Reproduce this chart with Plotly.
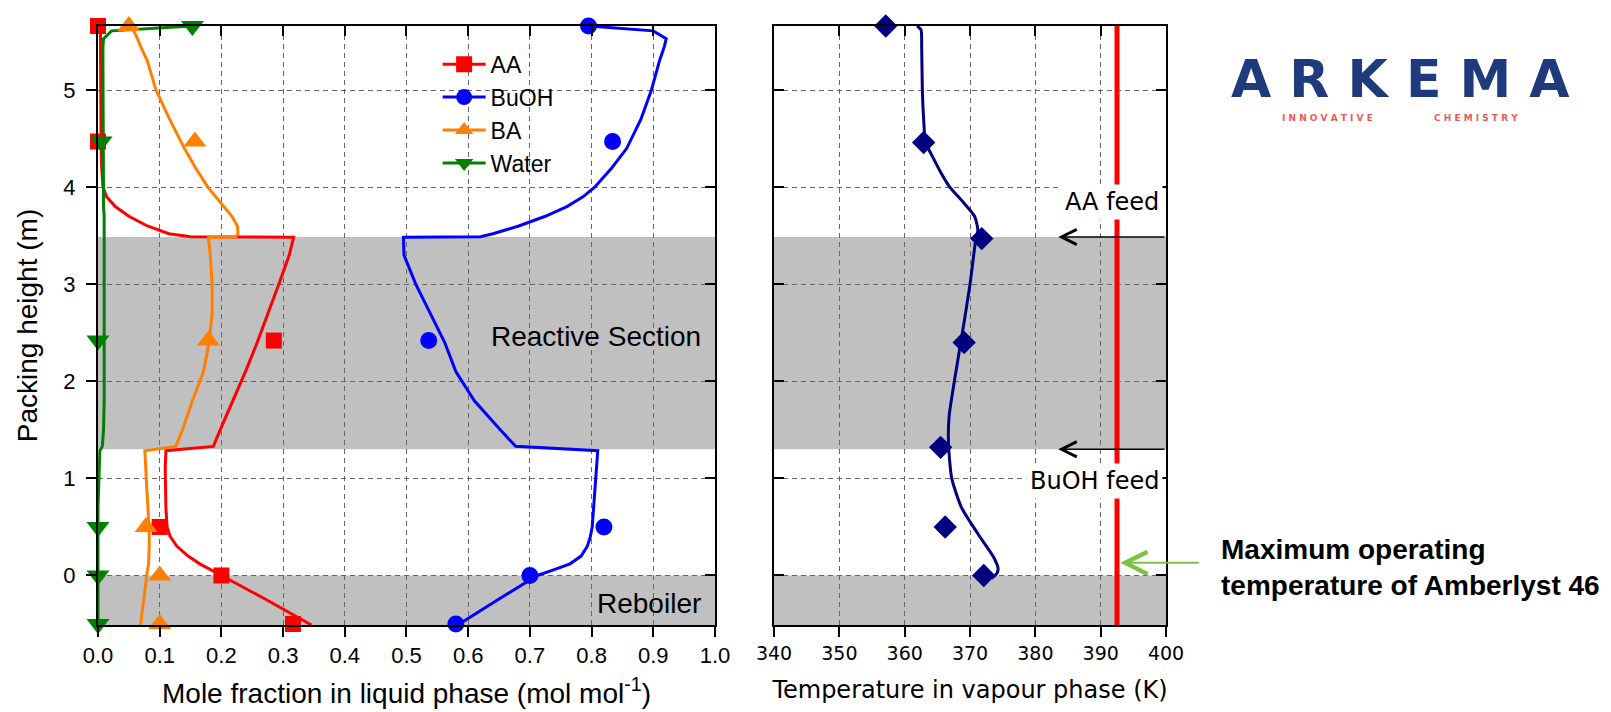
import plotly.graph_objects as go

# ---------------- data ----------------
Y_MIN, Y_MAX = -0.51, 5.66
REACTIVE = (1.30, 3.487)
REBOILER = (Y_MIN, 0.0)

# experimental liquid composition (heights in m)
H_EXP = [5.66, 4.47, 2.42, 0.5, 0.0, -0.5]
AA_EXP = [0.0, 0.0, 0.285, 0.10, 0.20, 0.316]
BUOH_EXP = [0.795, 0.834, 0.536, 0.82, 0.70, 0.58]
BA_EXP = [0.05, 0.157, 0.179, 0.078, 0.10, 0.10]
WATER_EXP = [0.153, 0.005, 0.0, 0.0, 0.0, 0.0]

# model liquid composition profiles
H_MODEL = [5.66, 5.61, 5.53, 5.45, 5.3, 5.0, 4.7, 4.4, 4.2, 4.0, 3.9, 3.8, 3.7, 3.6, 3.52, 3.49,
           3.485, 3.3, 3.0, 2.7, 2.4, 2.1, 1.8, 1.5, 1.33,
           1.285, 1.1, 0.9, 0.7, 0.5, 0.4, 0.3, 0.2, 0.12, 0.05, 0.0, -0.25, -0.51]
AA_MODEL = [0.003, 0.004, 0.004, 0.004, 0.004, 0.004, 0.004, 0.005, 0.006, 0.008, 0.014, 0.028, 0.05, 0.08, 0.115, 0.15,
            0.317, 0.31, 0.293, 0.276, 0.258, 0.239, 0.218, 0.198, 0.187,
            0.11, 0.109, 0.109, 0.11, 0.112, 0.117, 0.128, 0.146, 0.165, 0.186, 0.2, 0.273, 0.346]
BUOH_MODEL = [0.795, 0.9, 0.921, 0.918, 0.91, 0.897, 0.88, 0.857, 0.833, 0.805, 0.786, 0.76, 0.725, 0.682, 0.64, 0.62,
              0.495, 0.496, 0.515, 0.538, 0.562, 0.58, 0.61, 0.652, 0.677,
              0.81, 0.808, 0.806, 0.803, 0.801, 0.798, 0.793, 0.783, 0.765, 0.735, 0.712, 0.648, 0.583]
BA_MODEL = [0.05, 0.058, 0.064, 0.069, 0.08, 0.094, 0.116, 0.14, 0.158, 0.178, 0.191, 0.204, 0.217, 0.226, 0.227, 0.223,
            0.179, 0.182, 0.185, 0.185, 0.18, 0.171, 0.153, 0.137, 0.126,
            0.076, 0.078, 0.079, 0.081, 0.083, 0.083, 0.083, 0.082, 0.082, 0.08, 0.079, 0.075, 0.069]
WATER_MODEL = [0.153, 0.022, 0.009, 0.008, 0.008, 0.008, 0.008, 0.008, 0.008, 0.009, 0.009, 0.009, 0.01, 0.01, 0.01, 0.01,
               0.01, 0.011, 0.011, 0.011, 0.011, 0.011, 0.01, 0.009, 0.007,
               0.003, 0.002, 0.001, 0.0, 0.0, 0.0, 0.0, 0.0, 0.0, 0.0, 0.0, 0.0, 0.0]

# vapour temperature
H_T_EXP = [5.66, 4.46, 3.47, 2.40, 1.32, 0.5, 0.0]
T_EXP = [357.1, 362.9, 371.8, 369.1, 365.5, 366.2, 372.1]
H_T_MODEL = [5.66, 5.62, 5.45, 5.0, 4.7, 4.46, 4.31, 4.13, 4.0, 3.85, 3.7, 3.56, 3.47, 3.0, 2.57,
             2.0, 1.64, 1.36, 1.0, 0.7, 0.42, 0.19, 0.07, 0.02, -0.03]
T_MODEL = [361.9, 362.5, 362.6, 362.7, 362.9, 363.2, 364.3, 365.7, 366.9, 368.9, 370.7, 371.2, 370.9, 370.0, 369.0,
           367.6, 366.8, 366.7, 367.2, 368.7, 371.3, 373.6, 374.3, 374.1, 373.3]
T_MAX = 392.5

SPECIES = ["AA", "BuOH", "BA", "Water"]
COLORS = ["#ff0000", "#0000ff", "#ff8000", "#008000"]
SYMBOLS = ["square", "circle", "triangle-up", "triangle-down"]
SIZES = [16, 17, 20, 20]
MODELS = [AA_MODEL, BUOH_MODEL, BA_MODEL, WATER_MODEL]
EXPS = [AA_EXP, BUOH_EXP, BA_EXP, WATER_EXP]

ARIAL = "Liberation Sans, Arial, sans-serif"
VERD = "DejaVu Sans, Verdana, sans-serif"

fig = go.Figure()

for name, col, sym, sz, xm, xe in zip(SPECIES, COLORS, SYMBOLS, SIZES, MODELS, EXPS):
    fig.add_trace(go.Scatter(x=xm, y=H_MODEL, mode="lines", line=dict(color=col, width=3),
                             showlegend=False, hoverinfo="skip", xaxis="x", yaxis="y"))
for name, col, sym, sz, xm, xe in zip(SPECIES, COLORS, SYMBOLS, SIZES, MODELS, EXPS):
    fig.add_trace(go.Scatter(x=xe, y=H_EXP, mode="markers", cliponaxis=False,
                             marker=dict(symbol=sym, size=sz, color=col, line=dict(width=0)),
                             showlegend=False, xaxis="x", yaxis="y"))
for name, col, sym, sz, xm, xe in zip(SPECIES, COLORS, SYMBOLS, SIZES, MODELS, EXPS):
    fig.add_trace(go.Scatter(x=[None], y=[None], mode="lines+markers", name=name,
                             line=dict(color=col, width=3),
                             marker=dict(symbol=sym, size=sz, color=col),
                             xaxis="x", yaxis="y"))

# temperature panel
fig.add_trace(go.Scatter(x=[T_MAX, T_MAX], y=[Y_MIN, Y_MAX], mode="lines",
                         line=dict(color="#ff0000", width=5), showlegend=False,
                         xaxis="x2", yaxis="y2"))
fig.add_trace(go.Scatter(x=T_MODEL, y=H_T_MODEL, mode="lines",
                         line=dict(color="#000080", width=3, shape="spline", smoothing=0.6),
                         showlegend=False, xaxis="x2", yaxis="y2"))
fig.add_trace(go.Scatter(x=T_EXP, y=H_T_EXP, mode="markers", cliponaxis=False,
                         marker=dict(symbol="diamond", size=18, color="#000080"),
                         showlegend=False, xaxis="x2", yaxis="y2"))

# dummy traces for mirrored inside ticks
fig.add_trace(go.Scatter(x=[None], y=[None], xaxis="x3", yaxis="y3", showlegend=False, hoverinfo="skip"))
fig.add_trace(go.Scatter(x=[None], y=[None], xaxis="x4", yaxis="y4", showlegend=False, hoverinfo="skip"))

GRID = dict(showgrid=True, gridcolor="#666666", gridwidth=1, griddash="5px,4px", zeroline=False)
LINE = dict(showline=True, linewidth=2, linecolor="black", mirror=True)
TICKS = dict(ticklen=10, tickwidth=2, tickcolor="black")
MIRR = dict(ticks="inside", showticklabels=False, showgrid=False, showline=False, zeroline=False, **TICKS)

D1 = (0.0, 0.5777)
D2 = (0.633, 1.0)

fig.update_layout(
    width=1611, height=712,
    margin=dict(l=90, r=453, t=18, b=95),
    paper_bgcolor="white", plot_bgcolor="white",
    font=dict(family=ARIAL, color="black"),
    xaxis=dict(domain=D1, anchor="y", range=[0, 1], tick0=0, dtick=0.1, tickformat=".1f",
               ticks="outside", tickfont=dict(family=ARIAL, size=22),
               title=dict(text="Mole fraction in liquid phase (mol mol<sup>-1</sup>)",
                          font=dict(family=ARIAL, size=28), standoff=16),
               **GRID, **LINE, **TICKS),
    yaxis=dict(domain=[0, 1], anchor="x", range=[Y_MIN, Y_MAX], tick0=0, dtick=1,
               ticks="outside", tickfont=dict(family=ARIAL, size=22), ticklabelstandoff=6,
               title=dict(text="Packing height (m)", font=dict(family=ARIAL, size=28), standoff=18),
               **GRID, **LINE, **TICKS),
    xaxis2=dict(domain=D2, anchor="y2", range=[340, 400], tick0=340, dtick=10,
                ticks="outside", tickfont=dict(family=VERD, size=19),
                title=dict(text="Temperature in vapour phase (K)", font=dict(family=VERD, size=24), standoff=18),
                **GRID, **LINE, **TICKS),
    yaxis2=dict(anchor="x2", range=[Y_MIN, Y_MAX], tick0=0, dtick=1, ticks="inside",
                showticklabels=False, **GRID, **LINE, **TICKS),
    xaxis3=dict(overlaying="x", side="top", anchor="y3", range=[0, 1], tick0=0, dtick=0.1, **MIRR),
    yaxis3=dict(overlaying="y", side="right", anchor="x3", range=[Y_MIN, Y_MAX], tick0=0, dtick=1, **MIRR),
    xaxis4=dict(overlaying="x2", side="top", anchor="y4", range=[340, 400], tick0=340, dtick=10, **MIRR),
    yaxis4=dict(overlaying="y2", side="right", anchor="x4", range=[Y_MIN, Y_MAX], tick0=0, dtick=1, **MIRR),
    legend=dict(x=0.318, y=0.972, xanchor="left", yanchor="top", bgcolor="rgba(0,0,0,0)",
                font=dict(family=ARIAL, size=23), tracegroupgap=0, itemwidth=43),
)

# shaded regions
for xr in ["x domain", "x2 domain"]:
    ya = "y" if xr.startswith("x ") else "y2"
    for lo, hi in (REACTIVE, REBOILER):
        fig.add_shape(type="rect", xref=xr, yref=ya, x0=0, x1=1, y0=lo, y1=hi,
                      fillcolor="#c0c0c0", line=dict(width=0), layer="below")

ann = []
ann.append(dict(text="Reactive Section", xref="x", yref="y", x=0.98, y=2.46, xanchor="right", yanchor="middle",
                showarrow=False, font=dict(family=ARIAL, size=28)))
ann.append(dict(text="Reboiler", xref="x", yref="y", x=0.98, y=-0.286, xanchor="right", yanchor="middle",
                showarrow=False, font=dict(family=ARIAL, size=28)))
ann.append(dict(text="AA feed", xref="x2", yref="y2", x=399.5, y=3.85, xanchor="right", yanchor="middle",
                showarrow=False, bgcolor="white", borderpad=3, font=dict(family=VERD, size=24)))
ann.append(dict(text="BuOH feed", xref="x2", yref="y2", x=399.5, y=0.97, xanchor="right", yanchor="middle",
                showarrow=False, bgcolor="white", borderpad=3, font=dict(family=VERD, size=24)))
for yy in REACTIVE[::-1]:
    ann.append(dict(text="", xref="x2", yref="y2", x=383.5, y=yy, axref="x2", ayref="y2", ax=400, ay=yy,
                    showarrow=True, arrowhead=5, arrowsize=2, arrowwidth=1.5, arrowcolor="black"))
ann.append(dict(text="", xref="x2", yref="y2", x=393.0, y=0.13, ax=80, ay=0,
                showarrow=True, arrowhead=5, arrowsize=2.2, arrowwidth=2, arrowcolor="#7cc142"))
ann.append(dict(text="Maximum operating<br>temperature of Amberlyst 46", xref="paper", yref="y2",
                x=1.0496, y=0.082, xanchor="left", yanchor="middle", align="left", showarrow=False,
                font=dict(family=ARIAL, size=28, weight="bold")))
# logo
ann.append(dict(text="A R K E M A", xref="paper", yref="paper", x=1.22, y=0.911,
                xanchor="center", yanchor="middle", borderpad=0,
                showarrow=False, font=dict(family=VERD, size=52, weight="bold", color="#1f3b7d")))
ann.append(dict(text="I N N O V A T I V E", xref="paper", yref="paper", x=1.1512, y=0.846, xanchor="center",
                yanchor="middle", borderpad=0, showarrow=False,
                font=dict(family=VERD, size=9, weight="bold", color="#e85a5a")))
ann.append(dict(text="C H E M I S T R Y", xref="paper", yref="paper", x=1.2898, y=0.846, xanchor="center",
                yanchor="middle", borderpad=0, showarrow=False,
                font=dict(family=VERD, size=9, weight="bold", color="#e85a5a")))
fig.update_layout(annotations=ann)

fig.write_html("out.html")
